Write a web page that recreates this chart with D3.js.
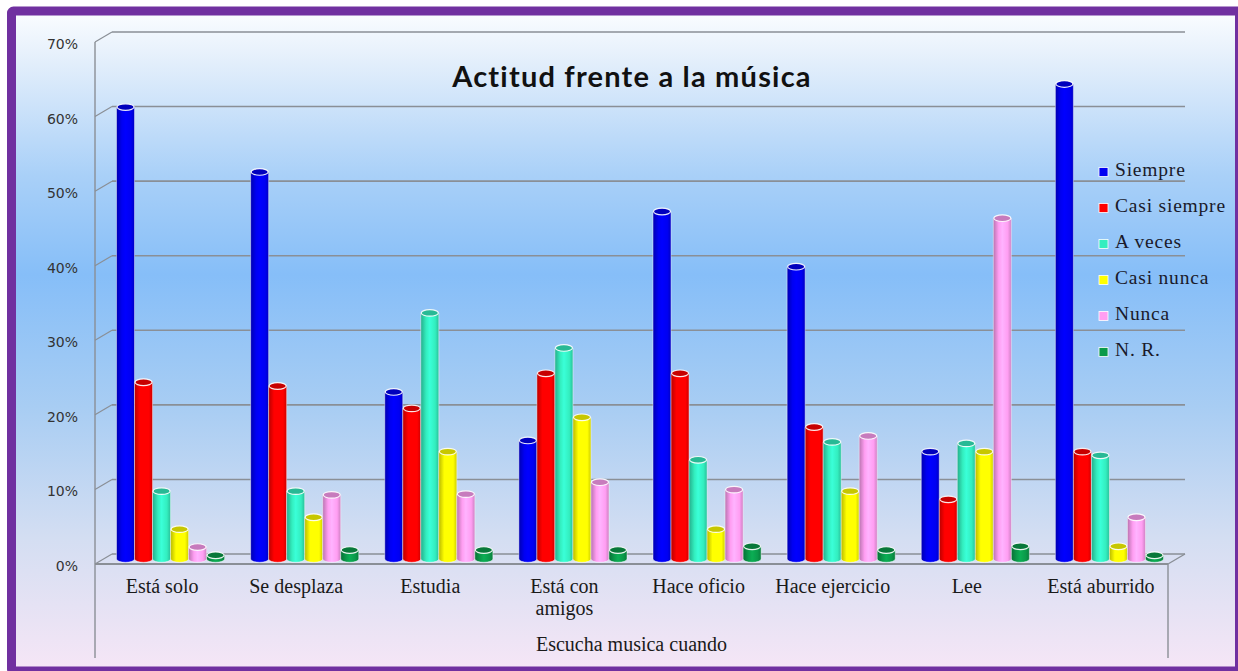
<!DOCTYPE html>
<html>
<head>
<meta charset="utf-8">
<script src="https://cdn.jsdelivr.net/npm/d3@7"></script>
<style>
  body { margin: 0; background: #fff; }
  svg { display: block; }
</style>
</head>
<body>
<div id="chart"></div>
<script>
// data (percent)
var categories = ["Está solo", "Se desplaza", "Estudia", "Está con\namigos", "Hace oficio", "Hace ejercicio", "Lee", "Está aburrido"];
var seriesNames = ["Siempre", "Casi siempre", "A veces", "Casi nunca", "Nunca", "N. R."];
var seriesColors = ["#0000f2", "#ff0000", "#33eebf", "#ffff00", "#ff9ef2", "#0a9a4a"];

var siempre     = [60.6, 51.9, 22.4, 15.9, 46.6, 39.2, 14.4, 63.7];
var casiSiempre = [23.7, 23.2, 20.2, 24.9, 24.9, 17.7,  8.0, 14.4];
var aVeces      = [ 9.1,  9.1, 33.0, 28.3, 13.3, 15.7, 15.5, 13.9];
var casiNunca   = [ 4.0,  5.6, 14.4, 19.0,  4.0,  9.1, 14.4,  1.7];
var nunca       = [ 1.6,  8.6,  8.7, 10.3,  9.3, 16.5, 45.7,  5.6];
var nr          = [ 0.5,  1.2,  1.2,  1.2,  1.7,  1.2,  1.7,  0.5];
var seriesValues = [siempre, casiSiempre, aVeces, casiNunca, nunca, nr];

var yTicks = [0, 10, 20, 30, 40, 50, 60, 70];
var title = "Actitud frente a la música";
var axisTitle = "Escucha musica cuando";

var W = 1238, H = 671;
var depthX = 17, depthY = 10;   // 3d offset back wall -> front edge
var front = {left: 95, right: 1168};
var backTop = 32, backBottom = 554;

var svg = d3.select("#chart").append("svg")
    .attr("width", W)
    .attr("height", H);

var defs = svg.append("defs");

// background gradient
var bg = defs.append("linearGradient")
    .attr("id", "bg")
    .attr("x1", 0).attr("y1", 0).attr("x2", 0).attr("y2", 1);
[[0, "#fbfdff"], [0.08, "#e2eefb"], [0.25, "#a9d0f8"], [0.4, "#86bef8"], [0.6, "#a8cdf3"], [0.8, "#d4def2"], [1, "#f6e6f6"]]
  .forEach(function(s) { bg.append("stop").attr("offset", s[0]).attr("stop-color", s[1]); });

// cylinder gradients
seriesColors.forEach(function(c, i) {
  var base = d3.color(c);
  var g = defs.append("linearGradient")
      .attr("id", "cyl" + i)
      .attr("x1", 0).attr("y1", 0).attr("x2", 1).attr("y2", 0);
  g.append("stop").attr("offset", 0).attr("stop-color", base.darker(0.9));
  g.append("stop").attr("offset", 0.3).attr("stop-color", base);
  g.append("stop").attr("offset", 0.5).attr("stop-color", base.brighter(0.35));
  g.append("stop").attr("offset", 0.8).attr("stop-color", base);
  g.append("stop").attr("offset", 1).attr("stop-color", base.darker(0.6));
});

svg.append("rect")
    .attr("x", 11.5).attr("y", 11)
    .attr("width", 1228).attr("height", 660)
    .attr("fill", "url(#bg)");

// scales
var y = d3.scaleLinear().domain([0, 70]).range([backBottom, backTop]);
var x0 = d3.scaleBand().domain(categories).range([front.left, front.right]).padding(0);
var bw = x0.bandwidth();
var x1 = d3.scaleBand().domain(seriesNames).range([bw * 0.097, bw * 0.903]).padding(0);

var gridColor = "#8a8f96";

// back wall gridlines with diagonal to the front
var grid = svg.append("g");
grid.selectAll("line.h")
  .data(yTicks)
  .enter().append("line")
    .attr("x1", front.left + depthX)
    .attr("x2", front.right + depthX)
    .attr("y1", function(d) { return y(d); })
    .attr("y2", function(d) { return y(d); })
    .attr("stroke", gridColor)
    .attr("stroke-width", 1.6);
grid.selectAll("line.d")
  .data(yTicks)
  .enter().append("line")
    .attr("x1", front.left)
    .attr("x2", front.left + depthX)
    .attr("y1", function(d) { return y(d) + depthY; })
    .attr("y2", function(d) { return y(d); })
    .attr("stroke", gridColor)
    .attr("stroke-width", 1.2);

// floor front edge + right side
svg.append("line")
    .attr("x1", front.left).attr("x2", front.right)
    .attr("y1", y(0) + depthY).attr("y2", y(0) + depthY)
    .attr("stroke", "#8a8f96").attr("stroke-width", 2.2);
svg.append("line")
    .attr("x1", front.right).attr("x2", front.right + depthX)
    .attr("y1", y(0) + depthY).attr("y2", y(0))
    .attr("stroke", gridColor).attr("stroke-width", 1.4);
// left axis and right vertical of category box
svg.append("line")
    .attr("x1", front.left).attr("x2", front.left)
    .attr("y1", y(70) + depthY).attr("y2", 658)
    .attr("stroke", gridColor).attr("stroke-width", 1.4);
svg.append("line")
    .attr("x1", front.right).attr("x2", front.right)
    .attr("y1", y(0) + depthY).attr("y2", 658)
    .attr("stroke", gridColor).attr("stroke-width", 1.4);

// y tick labels
svg.append("g").selectAll("text")
  .data(yTicks)
  .enter().append("text")
    .attr("x", 78)
    .attr("y", function(d) { return y(d) + depthY + 3; })
    .attr("text-anchor", "end")
    .attr("dominant-baseline", "middle")
    .attr("font-family", "DejaVu Sans, Verdana, sans-serif")
    .attr("font-size", 14)
    .attr("fill", "#333")
    .text(function(d) { return d + "%"; });

// bars (cylinders), sitting at mid depth
var midX = depthX / 2, midY = depthY / 2;
var ry = 3.3;
var w = x1.bandwidth();

var groups = svg.append("g").selectAll("g")
  .data(categories)
  .enter().append("g")
    .attr("transform", function(d) { return "translate(" + (x0(d) + midX) + "," + (midY) + ")"; });

groups.each(function(cat, ci) {
  var g = d3.select(this);
  seriesNames.forEach(function(s, si) {
    var v = seriesValues[si][ci];
    var bx = x1(s);
    var top = y(v), bottom = y(0);
    var cyl = g.append("g");
    cyl.append("path")
        .attr("d", "M" + bx + "," + top +
                   " L" + bx + "," + bottom +
                   " A" + (w / 2) + "," + ry + " 0 0 0 " + (bx + w) + "," + bottom +
                   " L" + (bx + w) + "," + top + " Z")
        .attr("fill", "url(#cyl" + si + ")")
        .attr("stroke", "#ffffff")
        .attr("stroke-opacity", 0.55)
        .attr("stroke-width", 0.8);
    cyl.append("ellipse")
        .attr("cx", bx + w / 2)
        .attr("cy", top)
        .attr("rx", w / 2 - 0.5)
        .attr("ry", ry)
        .attr("fill", d3.color(seriesColors[si]).darker(0.7))
        .attr("stroke", "#ffffff")
        .attr("stroke-opacity", 0.9)
        .attr("stroke-width", 1.2);
  });
});

// category labels
var catLabels = svg.append("g").selectAll("text")
  .data(categories)
  .enter().append("text")
    .attr("x", function(d) { return x0(d) + bw / 2; })
    .attr("y", 593)
    .attr("text-anchor", "middle")
    .attr("font-family", "Liberation Serif, Times New Roman, serif")
    .attr("font-size", 20)
    .attr("fill", "#1a1a1a");
catLabels.each(function(d) {
  var t = d3.select(this);
  d.split("\n").forEach(function(line, i) {
    t.append("tspan")
        .attr("x", x0(d) + bw / 2)
        .attr("dy", i ? 22 : 0)
        .text(line);
  });
});

svg.append("text")
    .attr("x", (front.left + front.right) / 2)
    .attr("y", 651)
    .attr("text-anchor", "middle")
    .attr("font-family", "Liberation Serif, Times New Roman, serif")
    .attr("font-size", 20)
    .attr("fill", "#1a1a1a")
    .text(axisTitle);

// title
svg.append("text")
    .attr("x", 632)
    .attr("y", 87)
    .attr("text-anchor", "middle")
    .attr("font-family", "Lato, Open Sans, sans-serif")
    .attr("font-weight", "bold")
    .attr("font-size", 29)
    .attr("letter-spacing", 1.2)
    .attr("fill", "#111")
    .text(title);

// legend
var legend = svg.append("g").selectAll("g")
  .data(seriesNames)
  .enter().append("g")
    .attr("transform", function(d, i) { return "translate(1099," + (172 + i * 36) + ")"; });
legend.append("rect")
    .attr("x", 0).attr("y", -4.5)
    .attr("width", 9).attr("height", 9)
    .attr("fill", function(d, i) { return seriesColors[i]; })
    .attr("stroke", "#ffffff")
    .attr("stroke-width", 0.8);
legend.append("text")
    .attr("x", 16)
    .attr("y", 0)
    .attr("dominant-baseline", "middle")
    .attr("font-family", "Liberation Serif, Times New Roman, serif")
    .attr("font-size", 19.5)
    .attr("letter-spacing", 0.8)
    .attr("fill", "#1a1a2a")
    .text(function(d) { return d; });

// purple frame
svg.append("rect")
    .attr("x", 11.5).attr("y", 11)
    .attr("width", 1228).attr("height", 660)
    .attr("rx", 2)
    .attr("fill", "none")
    .attr("stroke", "#7030a0")
    .attr("stroke-width", 9);
</script>
</body>
</html>
